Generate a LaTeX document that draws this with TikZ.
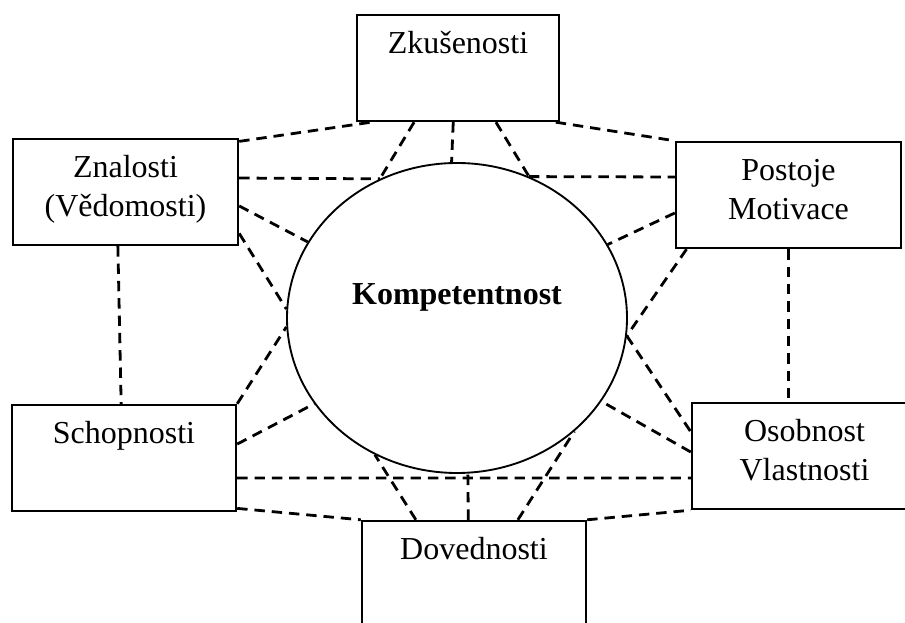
\documentclass[tikz,border=0pt]{standalone}
\usepackage{fontspec}
\setmainfont{Liberation Serif}
\usetikzlibrary{positioning, shapes, calc}
\tikzset{
	conceptBox/.style={draw, line width=.9pt, minimum width=#1, minimum height=39.75pt, inner sep=0pt},
	conceptBox/.default=84.375pt,
	boxText/.style={anchor=base, text width=84pt, align=center, inner sep=0pt},
	core/.style={ellipse, draw, line width=.7pt, minimum width=127.5pt, minimum height=116.25pt, inner sep=0pt},
	link/.style={line width=1.05pt, dash pattern=on 3.9pt off 2.6pt}
}

\begin{document}
\begin{tikzpicture}[x=0.375pt, y=-0.375pt, font=\fontsize{12}{14.7}\selectfont]
\useasboundingbox (0,0) rectangle (905,623);
\clip (0,0) rectangle (905,623);

\node[core] (komp) at (457,318) {};
\node[conceptBox=75.75pt] (zkus) at (458,68) {};
\node[conceptBox] (znal) at (125.5,192) {};
\node[conceptBox] (post) at (788.5,195) {};
\node[conceptBox=84pt] (schop) at (124,458) {};
\node[conceptBox] (osob) at (804.5,456) {};
\node[conceptBox=84pt] (doved) at (474,574) {};

\node[anchor=base, font=\fontsize{12}{14.7}\selectfont\bfseries] (kompT) at (457,305) {Kompetentnost};
\node[boxText] (zkusT) at ([yshift=-15pt]zkus.north) {Zkušenosti};
\node[boxText] (znalT) at ([yshift=-15pt]znal.north) {Znalosti\\(Vědomosti)};
\node[boxText] (postT) at ([yshift=-15pt]post.north) {Postoje\\Motivace};
\node[boxText] (schopT) at ([yshift=-15pt]schop.north) {Schopnosti};
\node[boxText] (osobT) at ([yshift=-15pt]osob.north) {Osobnost\\Vlastnosti};
\node[boxText] (dovedT) at ([yshift=-15pt]doved.north) {Dovednosti};

% links round the top
\draw[link] (znal.24) -- (zkus.212);
\draw[link] (zkus.231) -- (komp.119);
\draw[link] (zkus.265) -- (komp.92);
\draw[link] (zkus.305) -- (komp.63);
\draw[link] (zkus.331) -- (post.north west);
\draw[link] (znal.7) -- (komp.119);
\draw[link] (komp.63) -- (post.171);
\draw[link] (znal.-7) -- (komp.153);
\draw[link] (znal.-20) -- (komp.177);
\draw[link] (post.189) -- (komp.26);
\draw[link] (post.208) -- (komp.-6);

% sides
\draw[link] (znal.262) -- (schop.93);
\draw[link] (post.south) -- (post.south |- osob.north);
\draw[link] (komp.-6) -- (osob.168);
\draw[link] (osob.178) -- (komp.-30);
\draw[link] (schop.north east) -- (komp.183);
\draw[link] (schop.7) -- (komp.211);

% links round the bottom
\draw[link] (schop.-10) -- (osob.191);
\draw[link] (doved.51) -- (komp.-44);
\draw[link] (doved.96) -- (komp.-86);
\draw[link] (doved.137) -- (komp.-121);
\draw[link] (schop.-24) -- (doved.north west);
\draw[link] (doved.north east) -- (osob.south west);
\end{tikzpicture}
\end{document}
